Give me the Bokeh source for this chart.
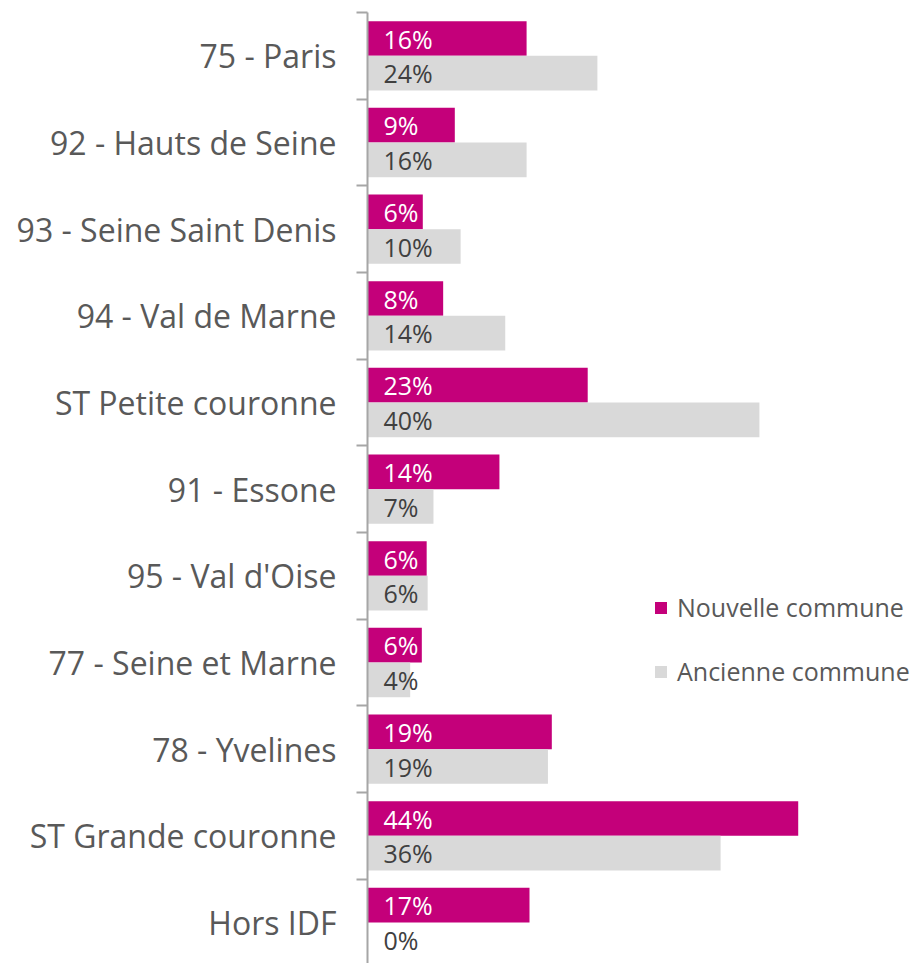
from bokeh.plotting import figure
from bokeh.models import (ColumnDataSource, Range1d, FixedTicker, Legend, LegendItem)
from bokeh.core.properties import value
from bokeh.embed import file_html
from bokeh.resources import INLINE

categories = ["75 - Paris", "92 - Hauts de Seine", "93 - Seine Saint Denis",
              "94 - Val de Marne", "ST Petite couronne", "91 - Essone",
              "95 - Val d'Oise", "77 - Seine et Marne", "78 - Yvelines",
              "ST Grande couronne", "Hors IDF"]
nouvelle = [16.4, 9.0, 5.7, 7.8, 22.7, 13.6, 6.1, 5.6, 19.0, 44.4, 16.7]
ancienne = [23.7, 16.4, 9.6, 14.2, 40.4, 6.8, 6.2, 4.4, 18.6, 36.4, 0.0]
series_names = ["Nouvelle commune", "Ancienne commune"]

MAGENTA = "#C4007A"
GREY = "#D9D9D9"
FONT = "Open Sans"

n = len(categories)
centers = [i + 0.5 for i in range(n)]
y_new = [c - 0.2 for c in centers]
y_old = [c + 0.2 for c in centers]

src_new = ColumnDataSource(dict(y=y_new, v=nouvelle, x0=[0] * n,
                                lab=[f"{round(v)}%" for v in nouvelle]))
src_old = ColumnDataSource(dict(y=y_old, v=ancienne, x0=[0] * n,
                                lab=[f"{round(v)}%" for v in ancienne]))

p = figure(width=915, height=963, output_backend="svg", toolbar_location=None,
           x_range=Range1d(0, 56.49), y_range=Range1d(10.973, 0),
           x_axis_location=None, min_border_left=367, min_border_right=0,
           min_border_top=12, min_border_bottom=0)
p.outline_line_color = None
p.grid.visible = False
p.background_fill_color = "white"
p.border_fill_color = "white"

r_new = p.hbar(y="y", left=0, right="v", height=0.4, source=src_new,
               fill_color=MAGENTA, line_color=None)
r_old = p.hbar(y="y", left=0, right="v", height=0.4, source=src_old,
               fill_color=GREY, line_color=None)

p.text(x="x0", y="y", text="lab", source=src_new, x_offset=16,
       text_baseline="middle", text_align="left", text_color="white",
       text_font_size="25px", text_font=value(FONT))
p.text(x="x0", y="y", text="lab", source=src_old, x_offset=16,
       text_baseline="middle", text_align="left", text_color="#404040",
       text_font_size="25px", text_font=value(FONT))

ax = p.yaxis[0]
ax.ticker = FixedTicker(ticks=centers, minor_ticks=list(range(n + 1)))
ax.major_label_overrides = {c: lab for c, lab in zip(centers, categories)}
ax.major_tick_out = 0
ax.major_tick_in = 0
ax.minor_tick_out = 11
ax.minor_tick_in = 0
ax.minor_tick_line_color = "#A6A6A6"
ax.minor_tick_line_width = 2
ax.axis_line_color = "#A6A6A6"
ax.axis_line_width = 2
ax.major_label_standoff = 20
ax.major_label_text_font = FONT
ax.major_label_text_font_size = "32px"
ax.major_label_text_color = "#595959"

legend = Legend(items=[LegendItem(label=series_names[0], renderers=[r_new]),
                       LegendItem(label=series_names[1], renderers=[r_old])],
                location=(286, 275), orientation="vertical",
                glyph_width=15, glyph_height=15, label_standoff=9,
                label_height=30, spacing=30, padding=0, margin=0,
                border_line_color=None, background_fill_alpha=0,
                label_text_font=FONT, label_text_font_size="25px",
                label_text_color="#595959", label_text_baseline="middle")
p.add_layout(legend)

open("out.html", "w").write(file_html(p, INLINE))
